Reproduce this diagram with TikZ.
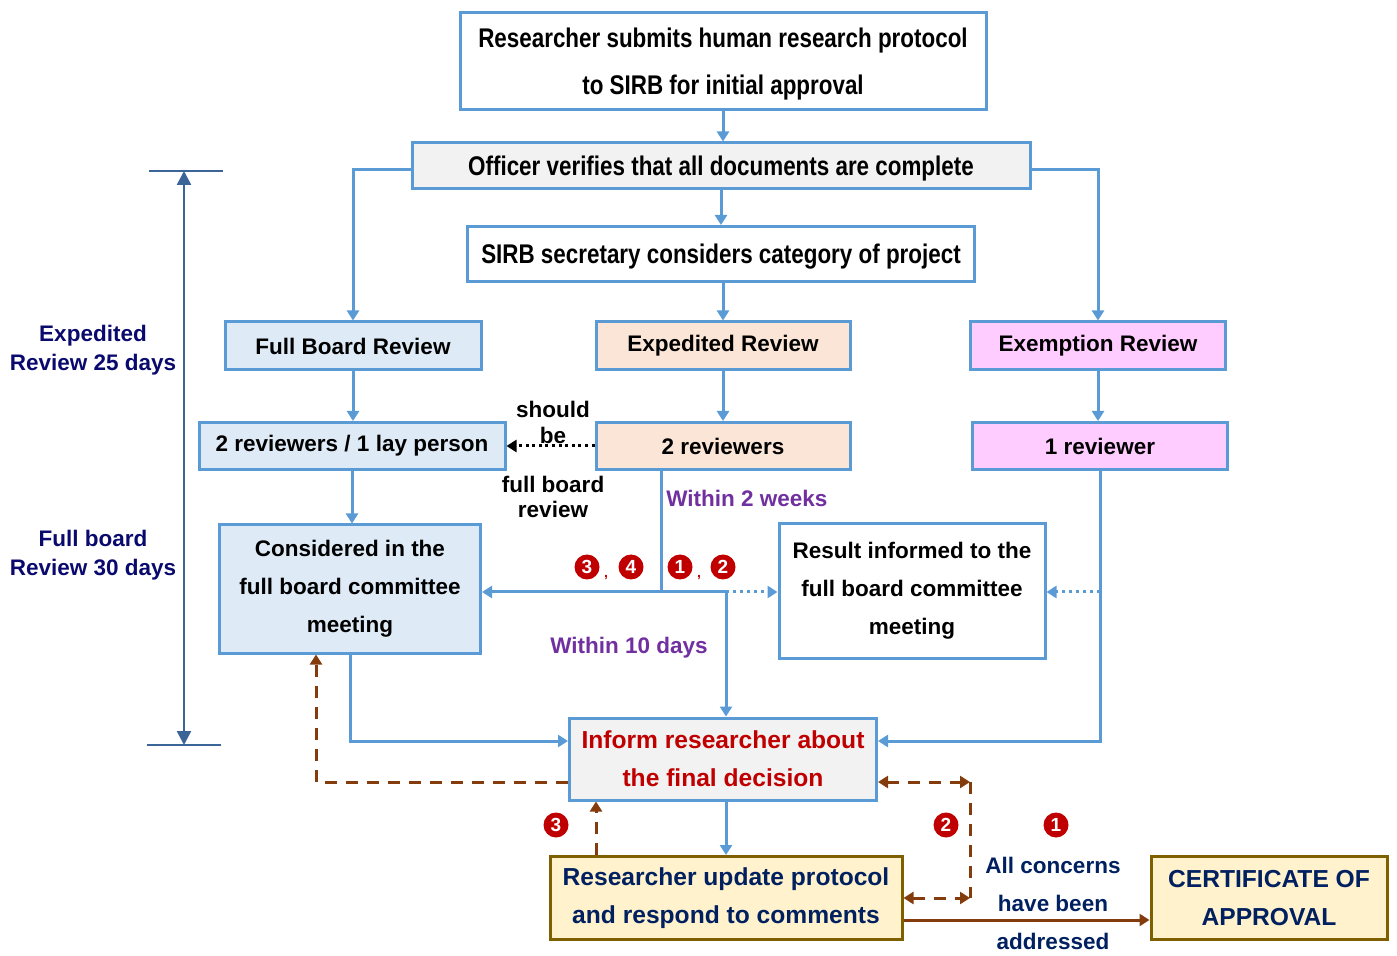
\documentclass[tikz,border=0pt]{standalone}
\usepackage{fontspec}
\setmainfont{Liberation Sans}
\newfontfamily\narrowfont[FakeStretch=0.83]{Liberation Sans}
\usetikzlibrary{arrows.meta,positioning}

\definecolor{flowblue}{HTML}{5B9BD5}
\definecolor{boardfill}{HTML}{DEEBF7}
\definecolor{expfill}{HTML}{FBE5D6}
\definecolor{exmfill}{HTML}{FFCCFF}
\definecolor{greyfill}{HTML}{F2F2F2}
\definecolor{certfill}{HTML}{FFF2CC}
\definecolor{certline}{HTML}{7F6000}
\definecolor{navytext}{HTML}{002060}
\definecolor{darknavy}{HTML}{0A0A6E}
\definecolor{redtext}{HTML}{C00000}
\definecolor{purpletext}{HTML}{7030A0}
\definecolor{loopbrown}{HTML}{843C0C}
\definecolor{dimblue}{HTML}{3C6597}

\tikzset{
	box/.style={draw=flowblue, line width=1.5pt, align=center, inner sep=0pt,
		font=\bfseries\fontsize{11.25}{19}\selectfont},
	bigbox/.style={box, font=\bfseries\fontsize{12.3}{19}\selectfont},
	certbox/.style={bigbox, draw=certline, fill=certfill, text=navytext},
	topbox/.style={box, text depth=0pt, font=\narrowfont\bfseries\fontsize{13.5}{15}\selectfont},
	flow/.style={draw=flowblue, line width=1.5pt, -{Triangle[width=6pt,length=5pt]}},
	flowdot/.style={flow, dash pattern=on 1.5pt off 2pt},
	fb/.style={draw=loopbrown, line width=1.5pt, dash pattern=on 6pt off 4.5pt},
	fbtip/.style={-{Triangle[width=6pt,length=5pt]}},
	fbboth/.style={{Triangle[width=6pt,length=5pt]}-{Triangle[width=6pt,length=5pt]}},
	numdot/.style={circle, fill=redtext, text=white, inner sep=0pt, minimum size=12.5pt,
		font=\bfseries\fontsize{9.5}{10}\selectfont},
	comma/.style={text=redtext, font=\bfseries\fontsize{7}{8}\selectfont, inner sep=0pt},
	note/.style={align=center, inner sep=0pt, font=\bfseries\fontsize{11.25}{19}\selectfont},
	dim/.style={draw=dimblue, line width=1.2pt}
}

\begin{document}
\begin{tikzpicture}[x=0.5pt, y=-0.5pt]
	\useasboundingbox (0,0) rectangle (1397,956);
	
	% boxes
	\node[topbox, minimum width=263pt, minimum height=48.5pt,
		font=\narrowfont\bfseries\fontsize{13.5}{23.5}\selectfont] (submit) at (723,61)
		{Researcher submits human research protocol\\to SIRB for initial approval};
	\node[topbox, fill=greyfill, minimum width=309pt, minimum height=23pt] (officer) at (721,166)
		{Officer verifies that all documents are complete};
	\node[topbox, minimum width=253.5pt, minimum height=27.5pt] (secretary) at (721,254)
		{SIRB secretary considers category of project};
	
	\node[box, fill=boardfill, minimum width=128pt, minimum height=24pt] (fullboard) at (353,346) {Full Board Review};
	\node[box, fill=expfill, minimum width=127pt, minimum height=24pt] (expedited) at (723,346) {Expedited Review};
	\node[box, fill=exmfill, minimum width=127.5pt, minimum height=24pt] (exemption) at (1098,346) {Exemption Review};
	
	\node[box, fill=boardfill, minimum width=153pt, minimum height=23.5pt] (layrev) at (352,446) {2 reviewers / 1 lay person};
	\node[box, fill=expfill, minimum width=127pt, minimum height=23.5pt] (tworev) at (723,446) {2 reviewers};
	\node[box, fill=exmfill, minimum width=127.5pt, minimum height=23.5pt] (onerev) at (1100,446) {1 reviewer};
	
	\node[box, fill=boardfill, minimum width=130.5pt, minimum height=64pt] (considered) at (350,589)
		{Considered in the\\full board committee\\meeting};
	\node[box, minimum width=133pt, minimum height=67pt] (result) at (912,591)
		{Result informed to the\\full board committee\\meeting};
	
	\node[bigbox, fill=greyfill, text=redtext, minimum width=153.5pt, minimum height=41pt] (inform) at (723,759)
		{Inform researcher about\\the final decision};
	\node[certbox, minimum width=176pt, minimum height=41.5pt] (update) at (726,898)
		{Researcher update protocol\\and respond to comments};
	\node[certbox, minimum width=118pt, minimum height=41.5pt] (cert) at (1269,898)
		{CERTIFICATE OF\\APPROVAL};
	
	% blue flow
	\draw[flow] (submit.south) -- (submit.south |- officer.north);
	\draw[flow] (officer.south) -- (officer.south |- secretary.north);
	\draw[flow] (secretary.south -| expedited) -- (expedited.north);
	\draw[flow] ([yshift=-2pt]officer.west) -| (fullboard.north);
	\draw[flow] ([yshift=-2pt]officer.east) -| (exemption.north);
	\draw[flow] (fullboard.south) -- (fullboard.south |- layrev.north);
	\draw[flow] (expedited.south) -- (tworev.north);
	\draw[flow] (exemption.south) -- (exemption.south |- onerev.north);
	\draw[flow] (layrev.south) -- (layrev.south |- considered.north);
	
	\coordinate (split) at (661,592);
	\coordinate (mid) at (726,592);
	\draw[flow, -] (tworev.south -| split) -- (split);
	\draw[flow] (split) -- (considered.east |- split);
	\draw[flow, -] (split) -- (mid);
	\draw[flow] (mid) -- (mid |- inform.north);
	\draw[flowdot] (mid) -- (result.west |- mid);
	
	\draw[flow] (considered.south) |- ([yshift=9pt]inform.west);
	\draw[flow] (onerev.south) |- ([yshift=9pt]inform.east);
	\draw[flowdot] (onerev.south |- mid) -- (result.east |- mid);
	\draw[flow] (inform.south -| update.north) -- (update.north);
	
	% should be full board review
	\draw[line width=1.5pt, dash pattern=on 1.5pt off 1.8pt, -{Triangle[width=6pt,length=5pt]}]
		(tworev.west) -- (layrev.east);
	\node[note, font=\bfseries\fontsize{11.25}{13}\selectfont] (shouldbe) at (553,422) {should\\be};
	\node[note, font=\bfseries\fontsize{11.25}{12.5}\selectfont] (fbreview) at (553,497) {full board\\review};
	
	\node[note, text=purpletext, anchor=west] (twoweeks) at (666,498) {Within 2 weeks};
	\node[note, text=purpletext] (tendays) at (629,648) {Within 10 days};
	
	% numbered remarks
	\node[numdot] (n3a) at (587,567) {3};
	\node[comma] (c1) at (606,578) {,};
	\node[numdot] (n4a) at (631,567) {4};
	\node[numdot] (n1a) at (680,567) {1};
	\node[comma] (c2) at (699,578) {,};
	\node[numdot] (n2a) at (723,567) {2};
	\node[numdot] (n3b) at (556,825) {3};
	\node[numdot] (n2b) at (946,825) {2};
	\node[numdot] (n1b) at (1056,825) {1};
	
	% brown loops
	\draw[fb, fbtip] ([yshift=-11.5pt]inform.west) -| ([xshift=-17pt]considered.south);
	\draw[fb, fbtip] ([xshift=-65pt]update.north) -- ([xshift=-65pt]update.north |- inform.south);
	\coordinate (loopT) at (970,782);
	\coordinate (loopB) at (970,898);
	\draw[fb, fbboth] ([yshift=-11.5pt]inform.east) -- (loopT);
	\draw[fb] (loopT) -- (loopB);
	\draw[fb, fbboth] (update.east |- loopB) -- (loopB);
	\draw[draw=loopbrown, line width=1.5pt, -{Triangle[width=6pt,length=5pt]}]
		([yshift=-11pt]update.east) -- ([yshift=-11pt]cert.west);
	\node[note, text=navytext] (concerns) at (1053,903) {All concerns\\have been\\addressed};
	
	% time span on the left
	\coordinate (dimtop) at (184,171);
	\coordinate (dimbot) at (184,745);
	\draw[dim] ([xshift=-17.5pt]dimtop) -- ([xshift=19.5pt]dimtop);
	\draw[dim] ([xshift=-18.5pt]dimbot) -- ([xshift=18.5pt]dimbot);
	\draw[dim, {Triangle[width=7pt,length=7pt]}-{Triangle[width=7pt,length=7pt]}] (dimtop) -- (dimbot);
	\node[note, text=darknavy, font=\bfseries\fontsize{11.25}{14.5}\selectfont] (expdays) at (93,350) {Expedited\\Review 25 days};
	\node[note, text=darknavy, font=\bfseries\fontsize{11.25}{14.5}\selectfont] (fulldays) at (93,555) {Full board\\Review 30 days};
	
\end{tikzpicture}
\end{document}
